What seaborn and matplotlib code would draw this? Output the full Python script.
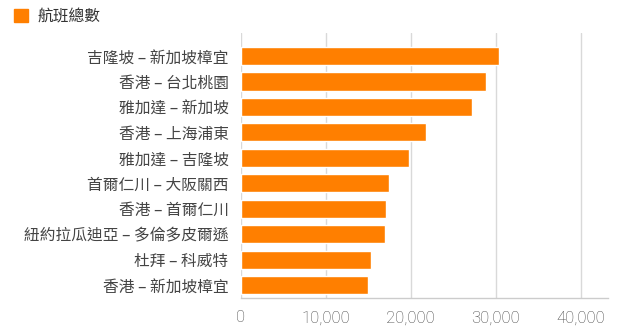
import matplotlib
matplotlib.use("Agg")
import matplotlib.pyplot as plt
import seaborn as sns
import pandas as pd
from matplotlib.patches import Patch
from matplotlib.ticker import FuncFormatter

routes = ["吉隆坡 – 新加坡樟宜", "香港 – 台北桃園", "雅加達 – 新加坡", "香港 – 上海浦東",
          "雅加達 – 吉隆坡", "首爾仁川 – 大阪關西", "香港 – 首爾仁川",
          "紐約拉瓜迪亞 – 多倫多皮爾遜", "杜拜 – 科威特", "香港 – 新加坡樟宜"]
flights = [30390, 28860, 27200, 21790, 19790, 17400, 17080, 16960, 15310, 14960]
series_name = "航班總數"
xticks = [0, 10000, 20000, 30000, 40000]

df = pd.DataFrame({"route": routes, "flights": flights})

sns.set_theme(style="white")
plt.rcParams['font.family'] = ['Noto Sans CJK TC', 'DejaVu Sans']

W, H = 631, 328
fig = plt.figure(figsize=(W / 100, H / 100), dpi=100)
L, R, T, B = 241, 608, 33, 298
ax = fig.add_axes([L / W, 1 - B / H, (R - L) / W, (B - T) / H])

color = "#ff7f00"
sns.barplot(data=df, y="route", x="flights", orient="h", color=color,
            saturation=1, width=0.71, ax=ax, zorder=3)

ax.set_xlim(0, 43230)
ax.set_ylim(9.51, -0.905)
ax.set_xticks(xticks)
ax.xaxis.set_major_formatter(FuncFormatter(lambda v, p: f"{int(v):,}"))
ax.grid(axis="x", color="#d9d9d9", linewidth=1, zorder=0)
ax.grid(axis="y", visible=False)
ax.set_xlabel("")
ax.set_ylabel("")
for s in ["top", "right", "left"]:
    ax.spines[s].set_visible(False)
ax.spines["bottom"].set_color("#cccccc")
ax.spines["bottom"].set_linewidth(1)
ax.tick_params(axis="y", length=0, pad=9, labelsize=11.3, labelcolor="#444444")
ax.tick_params(axis="x", length=5, width=1, color="#cccccc", pad=4,
               labelsize=12, labelcolor="#444444")
for lab in ax.get_yticklabels():
    lab.set_fontweight("light")
for lab in ax.get_xticklabels():
    lab.set_family(['Roboto', 'DejaVu Sans'])
    lab.set_fontweight("light")

handle = Patch(facecolor=color, edgecolor=color)
leg = fig.legend(handles=[handle], labels=[series_name], loc="upper left",
                 bbox_to_anchor=(14 / W, 1 - 8 / H), frameon=False, borderpad=0,
                 borderaxespad=0, handlelength=0.9, handleheight=0.9, handletextpad=0.6,
                 fontsize=11.3, labelcolor="#333333")
for t in leg.get_texts():
    t.set_fontweight("light")

fig.savefig("out.png", dpi=100)
